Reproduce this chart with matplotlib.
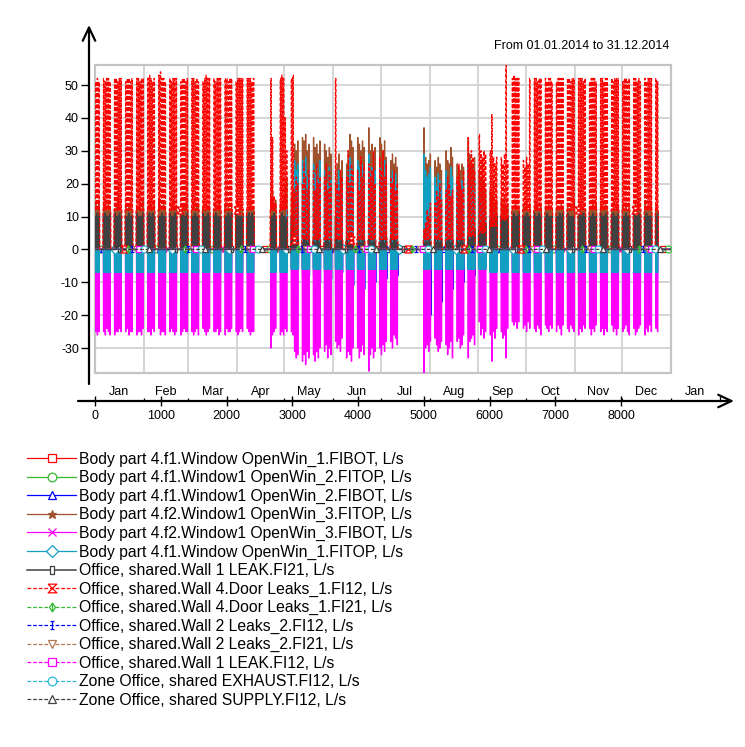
import numpy as np
import matplotlib
matplotlib.use("Agg")
import matplotlib.pyplot as plt
from matplotlib.path import Path
from matplotlib.patches import Rectangle, FancyArrowPatch
import matplotlib.transforms as mtransforms

plt.rcParams['font.family'] = ['Liberation Sans', 'DejaVu Sans']
plt.rcParams['axes.unicode_minus'] = False

# ---------------------------------------------------------------------------
# Calendar: hourly values for 2014. Week rows start on Monday 30.12.2013 and
# hold the daily values for Monday..Friday (weekends closed, 0 = closed day).
# ---------------------------------------------------------------------------
FIRST_MONDAY = -2
N_DAYS = 365

month_names = ["Jan", "Feb", "Mar", "Apr", "May", "Jun", "Jul", "Aug",
               "Sep", "Oct", "Nov", "Dec", "Jan"]
month_days = [31, 28, 31, 30, 31, 30, 31, 31, 30, 31, 30, 31, 31]
x_ticks = [0, 1000, 2000, 3000, 4000, 5000, 6000, 7000, 8000]
y_ticks = [-30, -20, -10, 0, 10, 20, 30, 40, 50]

# Office, shared.Wall 4.Door Leaks_1.FI12 - daytime peak, L/s
door_fi12_peak = [
    [0, 0, 51, 52, 51], [52, 51, 52, 52, 51], [52, 52, 51, 52, 52], [51, 52, 52, 51, 52],
    [52, 52, 51, 52, 52], [52, 53, 52, 51, 52], [53, 54, 52, 52, 51], [52, 51, 52, 52, 52],
    [51, 52, 52, 51, 52], [52, 52, 51, 52, 51], [51, 52, 53, 52, 52], [52, 51, 52, 52, 52],
    [52, 52, 51, 52, 52], [51, 52, 52, 52, 52], [52, 52, 52, 51, 52], [0, 0, 0, 0, 0],
    [0, 52, 34, 16, 14], [52, 53, 52, 40, 30], [52, 53, 18, 22, 20], [20, 26, 22, 18, 24],
    [24, 18, 26, 20, 22], [22, 26, 18, 24, 20], [52, 20, 18, 24, 22], [22, 30, 20, 26, 24],
    [24, 18, 28, 22, 26], [26, 22, 24, 30, 20], [28, 24, 30, 22, 26], [22, 20, 24, 18, 20],
    [0, 0, 0, 0, 0], [0, 0, 0, 0, 0], [6, 8, 12, 10, 14], [14, 18, 16, 20, 15],
    [18, 22, 20, 16, 18], [22, 26, 20, 18, 24], [34, 26, 30, 28, 24], [35, 30, 28, 30, 29],
    [30, 41, 28, 26, 28], [28, 26, 29, 56, 27], [52, 53, 52, 52, 52], [27, 25, 28, 26, 52],
    [52, 52, 51, 52, 52], [52, 51, 52, 52, 51], [51, 52, 52, 52, 52], [52, 52, 51, 52, 52],
    [52, 52, 52, 51, 52], [51, 52, 52, 52, 51], [52, 52, 51, 52, 52], [52, 51, 52, 52, 52],
    [51, 52, 52, 51, 52], [52, 52, 51, 52, 51], [52, 51, 52, 52, 52], [52, 51, 0, 0, 0],
    [0, 0, 0, 0, 0],
]
# Door Leaks_1.FI12 - level outside office hours on working days (per week)
door_fi12_night = [
    12, 12, 12, 12, 12, 12, 12, 12, 12, 12, 12, 12, 12, 12, 12, 12, 12, 12,
    3, 3, 3, 3, 3, 3, 3, 3, 3, 3, 3, 3, 3, 3, 3, 3, 4, 5, 7, 9,
    12, 12, 12, 12, 12, 12, 12, 12, 12, 12, 12, 12, 12, 12, 12,
]

# Body part 4.f2.Window1 OpenWin_3.FITOP - daytime peak, L/s
win3_top_peak = [
    [0, 0, 14, 12, 15], [13, 15, 12, 14, 13], [12, 14, 16, 13, 12], [14, 12, 13, 15, 12],
    [13, 12, 14, 12, 15], [12, 14, 13, 12, 14], [15, 13, 12, 14, 12], [12, 13, 15, 12, 13],
    [14, 12, 13, 14, 12], [12, 15, 12, 13, 14], [13, 12, 14, 12, 13], [12, 14, 12, 15, 12],
    [14, 12, 13, 12, 14], [13, 14, 12, 13, 12], [12, 13, 15, 12, 13], [0, 0, 0, 0, 0],
    [0, 16, 18, 14, 15], [14, 13, 16, 20, 22], [16, 18, 32, 30, 33], [34, 33, 35, 30, 32],
    [34, 31, 32, 29, 33], [32, 30, 28, 31, 29], [20, 26, 29, 24, 27], [26, 30, 35, 33, 31],
    [34, 32, 30, 33, 31], [37, 30, 32, 29, 31], [34, 32, 30, 33, 28], [27, 29, 26, 28, 25],
    [0, 0, 0, 0, 0], [0, 0, 0, 0, 0], [37, 28, 26, 27, 29], [27, 25, 28, 26, 24],
    [30, 27, 26, 31, 28], [26, 25, 24, 26, 25], [34, 29, 27, 26, 28], [24, 22, 26, 20, 18],
    [18, 16, 20, 14, 15], [15, 14, 16, 13, 14], [13, 12, 14, 12, 13], [14, 13, 15, 12, 14],
    [12, 14, 13, 12, 13], [13, 12, 14, 13, 12], [12, 13, 12, 14, 13], [14, 12, 13, 12, 15],
    [13, 14, 12, 13, 12], [12, 13, 15, 12, 14], [14, 12, 13, 14, 12], [12, 15, 12, 13, 13],
    [13, 12, 14, 12, 13], [12, 14, 13, 15, 12], [14, 12, 13, 12, 14], [13, 12, 0, 0, 0],
    [0, 0, 0, 0, 0],
]

# Body part 4.f1.Window OpenWin_1.FITOP - positive daytime peak, L/s
win1_top_peak = [
    [0, 0, 0, 0, 0], [0, 0, 0, 0, 0], [0, 0, 0, 0, 0], [0, 0, 0, 0, 0],
    [0, 0, 0, 0, 0], [0, 0, 0, 0, 0], [0, 0, 0, 0, 0], [0, 0, 0, 0, 0],
    [0, 0, 0, 0, 0], [0, 0, 0, 0, 0], [0, 0, 0, 0, 0], [0, 0, 0, 0, 0],
    [0, 0, 0, 0, 0], [0, 0, 0, 0, 0], [0, 0, 0, 0, 0], [0, 0, 0, 0, 0],
    [0, 4, 8, 6, 5], [5, 4, 6, 10, 12], [6, 8, 27, 24, 26], [27, 25, 28, 22, 24],
    [26, 23, 25, 21, 27], [24, 22, 20, 25, 21], [10, 20, 24, 18, 22], [20, 24, 28, 26, 23],
    [27, 25, 22, 26, 24], [29, 23, 25, 21, 24], [26, 24, 22, 27, 21], [22, 24, 20, 23, 19],
    [0, 0, 0, 0, 0], [0, 0, 0, 0, 0], [29, 24, 22, 23, 25], [22, 19, 23, 21, 18],
    [24, 21, 20, 25, 22], [20, 18, 17, 21, 19], [26, 22, 20, 18, 21], [16, 14, 18, 12, 10],
    [10, 8, 12, 6, 7], [6, 5, 7, 4, 5], [0, 0, 0, 0, 0], [0, 0, 0, 0, 0],
    [0, 0, 0, 0, 0], [0, 0, 0, 0, 0], [0, 0, 0, 0, 0], [0, 0, 0, 0, 0],
    [0, 0, 0, 0, 0], [0, 0, 0, 0, 0], [0, 0, 0, 0, 0], [0, 0, 0, 0, 0],
    [0, 0, 0, 0, 0], [0, 0, 0, 0, 0], [0, 0, 0, 0, 0], [0, 0, 0, 0, 0],
    [0, 0, 0, 0, 0],
]
# OpenWin_1.FITOP - negative level during office hours (per week)
win1_top_low = [
    -7, -7, -7, -7, -7, -7, -7, -7, -7, -7, -7, -7, -7, -7, -7, -7, -7, -7,
    -6, -6, -6, -6, -6, -6, -6, -6, -6, -6, -6, -6, -6, -6, -6, -6, -6, -6, -7, -7,
    -7, -7, -7, -7, -7, -7, -7, -7, -7, -7, -7, -7, -7, -7, -7,
]

# Body part 4.f2.Window1 OpenWin_3.FIBOT - daytime minimum, L/s
win3_bot_min = [
    [0, 0, -25, -26, -25], [-25, -26, -24, -25, -26], [-26, -25, -25, -24, -25], [-25, -24, -26, -25, -25],
    [-26, -25, -25, -26, -24], [-25, -25, -26, -24, -25], [-24, -26, -25, -25, -26], [-25, -24, -25, -26, -25],
    [-26, -25, -24, -25, -25], [-25, -26, -25, -24, -26], [-24, -25, -26, -25, -24], [-25, -25, -24, -26, -25],
    [-26, -24, -25, -25, -24], [-25, -26, -25, -24, -25], [-24, -25, -26, -25, -25], [0, 0, 0, 0, 0],
    [0, -30, -26, -25, -24], [-26, -25, -26, -24, -25], [-25, -26, -31, -33, -32], [-34, -32, -35, -31, -33],
    [-32, -34, -31, -33, -30], [-31, -29, -33, -30, -32], [-28, -30, -29, -31, -27], [-33, -31, -32, -34, -30],
    [-30, -33, -31, -29, -32], [-37, -32, -30, -33, -31], [-30, -32, -29, -31, -28], [-28, -30, -26, -27, -29],
    [0, 0, 0, 0, 0], [0, 0, 0, 0, 0], [-38, -30, -29, -31, -28], [-27, -29, -31, -30, -28],
    [-29, -32, -30, -28, -33], [-28, -27, -30, -29, -26], [-33, -28, -27, -26, -29], [-22, -26, -24, -27, -25],
    [-26, -34, -25, -27, -24], [-25, -27, -26, -33, -24], [-22, -23, -22, -24, -22], [-24, -23, -25, -22, -24],
    [-24, -25, -23, -24, -26], [-23, -24, -25, -23, -24], [-25, -23, -24, -26, -23], [-24, -25, -23, -24, -25],
    [-26, -24, -25, -23, -24], [-24, -26, -24, -25, -23], [-25, -24, -26, -24, -25], [-23, -25, -24, -26, -24],
    [-25, -24, -23, -25, -26], [-24, -26, -25, -24, -23], [-26, -24, -25, -23, -25], [-24, -25, 0, 0, 0],
    [0, 0, 0, 0, 0],
]

# Office, shared.Wall 1 LEAK.FI21 - daytime peak, L/s
wall1_fi21_peak = [
    [0, 0, 10, 11, 10], [10, 11, 10, 10, 11], [11, 10, 10, 11, 10], [10, 10, 11, 10, 10],
    [11, 10, 10, 10, 11], [10, 11, 10, 11, 10], [10, 10, 11, 10, 10], [11, 10, 10, 11, 10],
    [10, 11, 10, 10, 11], [10, 10, 11, 10, 10], [11, 10, 10, 11, 10], [10, 11, 10, 10, 10],
    [10, 10, 11, 10, 11], [11, 10, 10, 10, 10], [10, 11, 10, 11, 10], [0, 0, 0, 0, 0],
    [0, 10, 10, 11, 10], [10, 11, 10, 10, 9], [10, 10, 3, 2, 3], [2, 3, 4, 2, 3],
    [3, 2, 3, 4, 2], [2, 4, 3, 2, 3], [10, 3, 2, 4, 3], [3, 2, 4, 3, 2],
    [2, 3, 2, 4, 3], [3, 4, 2, 3, 2], [2, 3, 3, 2, 4], [4, 2, 3, 3, 2],
    [0, 0, 0, 0, 0], [0, 0, 0, 0, 0], [2, 3, 2, 3, 2], [3, 2, 3, 2, 3],
    [2, 3, 3, 2, 3], [3, 2, 3, 3, 2], [4, 3, 5, 4, 6], [6, 8, 7, 9, 8],
    [9, 10, 9, 10, 10], [10, 10, 9, 10, 10], [10, 11, 10, 10, 11], [10, 10, 11, 10, 10],
    [11, 10, 10, 11, 10], [10, 11, 10, 10, 10], [10, 10, 11, 10, 11], [11, 10, 10, 10, 10],
    [10, 11, 10, 11, 10], [10, 10, 11, 10, 10], [11, 10, 10, 11, 10], [10, 11, 10, 10, 11],
    [10, 10, 11, 10, 10], [11, 10, 10, 11, 10], [10, 11, 10, 10, 10], [10, 11, 0, 0, 0],
    [0, 0, 0, 0, 0],
]

# Body part 4.f1.Window1 OpenWin_2.FIBOT - evening minimum per week, L/s
win2_bot_min = [
    0, 0, 0, 0, 0, 0, 0, 0, 0, 0, 0, 0, 0, 0, 0, 0, 0, 0,
    -6, -8, -10, -9, -7, -11, -12, -10, -9, -8, 0, 0, -20, -16, -12, -10, -8, -5, -3, 0,
    0, 0, 0, 0, 0, 0, 0, 0, 0, 0, 0, 0, 0, 0, 0,
]
# Body part 4.f1.Window OpenWin_1.FIBOT - midday level per week, L/s
win1_bot_level = [
    0, 0, 0, 0, 0, 0, 0, 0, 0, 0, 0, 0, 0, 0, 0, 0, 0, 0,
    -6, -8, -8, -7, -8, -9, -8, -8, -7, -6, 0, 0, -8, -8, -7, -7, -6, -4, -2, 0,
    0, 0, 0, 0, 0, 0, 0, 0, 0, 0, 0, 0, 0, 0, 0,
]
# Flows that stay at zero over the year, L/s
ZERO_FLOW = 0.0

# ---------------------------------------------------------------------------
# Expand the daily values to the hourly simulation grid
# ---------------------------------------------------------------------------
hours = np.arange(N_DAYS * 24)
day_of_hour = hours // 24
hour_of_day = hours % 24
week_of_day = (np.arange(N_DAYS) - FIRST_MONDAY) // 7


def per_day(week_rows):
    daily = np.zeros(N_DAYS)
    for w, row in enumerate(week_rows):
        for i, v in enumerate(row):
            d = FIRST_MONDAY + 7 * w + i
            if 0 <= d < N_DAYS:
                daily[d] = v
    return daily


door_daily = per_day(door_fi12_peak)
open_day = door_daily != 0


def per_week(levels):
    return np.where(open_day, np.asarray(levels, float)[week_of_day], 0.0)


def office_hours(first, last):
    return (hour_of_day >= first) & (hour_of_day <= last)


def spread(daily, first, last, base=None):
    rest = np.zeros(hours.size) if base is None else base[day_of_hour]
    return np.where(office_hours(first, last), daily[day_of_hour], rest)


door_fi12 = spread(door_daily, 8, 16, base=per_week(door_fi12_night))
win3_top = spread(per_day(win3_top_peak), 9, 15)
win3_bot = spread(per_day(win3_bot_min), 8, 16)
wall1_fi21 = spread(per_day(wall1_fi21_peak), 8, 16)
win2_bot = spread(per_week(win2_bot_min), 19, 23)
win1_bot = spread(per_week(win1_bot_level), 10, 14)
win1_top = spread(per_week(win1_top_low), 8, 16)
top_peak_hourly = per_day(win1_top_peak)[day_of_hour]
win1_top = np.where(office_hours(10, 14) & (top_peak_hourly > 0), top_peak_hourly, win1_top)
flat = np.full(hours.size, ZERO_FLOW)

# ---------------------------------------------------------------------------
# Marker shapes
# ---------------------------------------------------------------------------
hourglass = [(-1, 1), (1, 1), (-1, -1), (1, -1), (-1, 1)]
slim_box = [(-0.35, -1), (0.35, -1), (0.35, 1), (-0.35, 1), (-0.35, -1)]
ibeam = Path([(-0.5, 1), (0.5, 1), (0, 1), (0, -1), (-0.5, -1), (0.5, -1)],
             [Path.MOVETO, Path.LINETO, Path.MOVETO, Path.LINETO, Path.MOVETO, Path.LINETO])
diamond_bar = Path([(0, 1), (0.7, 0), (0, -1), (-0.7, 0), (0, 1), (0, -1)],
                   [Path.MOVETO, Path.LINETO, Path.LINETO, Path.LINETO, Path.LINETO, Path.LINETO])

DASH = (0, (3, 1.5))
series = [
    ("Body part 4.f1.Window OpenWin_1.FIBOT, L/s", win1_bot, "#ff0000", "-", "s"),
    ("Body part 4.f1.Window1 OpenWin_2.FITOP, L/s", flat, "#33bb33", "-", "o"),
    ("Body part 4.f1.Window1 OpenWin_2.FIBOT, L/s", win2_bot, "#0000ff", "-", "^"),
    ("Body part 4.f2.Window1 OpenWin_3.FITOP, L/s", win3_top, "#a0522d", "-", "*"),
    ("Body part 4.f2.Window1 OpenWin_3.FIBOT, L/s", win3_bot, "#ff00ff", "-", "x"),
    ("Body part 4.f1.Window OpenWin_1.FITOP, L/s", win1_top, "#139fc2", "-", "D"),
    ("Office, shared.Wall 1 LEAK.FI21, L/s", wall1_fi21, "#404040", "-", slim_box),
    ("Office, shared.Wall 4.Door Leaks_1.FI12, L/s", door_fi12, "#ff0000", DASH, hourglass),
    ("Office, shared.Wall 4.Door Leaks_1.FI21, L/s", flat, "#33bb33", DASH, diamond_bar),
    ("Office, shared.Wall 2 Leaks_2.FI12, L/s", flat, "#0000ff", DASH, ibeam),
    ("Office, shared.Wall 2 Leaks_2.FI21, L/s", flat, "#b07850", DASH, "v"),
    ("Office, shared.Wall 1 LEAK.FI12, L/s", flat, "#ff00ff", DASH, "s"),
    ("Zone Office, shared EXHAUST.FI12, L/s", flat, "#2ab8d4", DASH, "o"),
    ("Zone Office, shared SUPPLY.FI12, L/s", flat, "#404040", DASH, "^"),
]
# first marked hour of each series; markers repeat every 36 days at night
MARK_STEP = 864
mark_start = [0, 70, 124, 188, 242, 310, 362, 434, 500, 556, 620, 674, 744, 814]

# ---------------------------------------------------------------------------
# Figure
# ---------------------------------------------------------------------------
W, H = 745, 747
fig = plt.figure(figsize=(W / 100, H / 100), dpi=100)
fig.patch.set_facecolor("white")


def fx(px):
    return px / W


def fy(py):
    return 1 - py / H


ax = fig.add_axes([fx(95), fy(373), fx(671) - fx(95), fy(65) - fy(373)])
ax.set_xlim(0, 8760)
ax.set_ylim(-37.6, 56.1)

handles = []
for i, (label, values, color, ls, marker) in enumerate(series):
    lw = 1.1 if i == 6 else 0.9
    filled = marker in ("*", "x")
    line, = ax.plot(hours, values, color=color, lw=lw, ls=ls, label=label,
                    marker=marker, markersize=5.0,
                    markerfacecolor=color if filled else "white",
                    markeredgecolor=color, markeredgewidth=0.9,
                    markevery=(mark_start[i], MARK_STEP), zorder=2 + i * 0.01)
    handles.append(line)

# grid and frame
month_start_hours = np.cumsum([0] + month_days) * 24
ax.set_yticks(y_ticks)
ax.set_xticks(x_ticks)
ax.set_xticks(month_start_hours[:13], minor=True)
ax.grid(True, axis="y", which="major", color="#d2d2d2", lw=1.3)
ax.grid(True, axis="x", which="minor", color="#d2d2d2", lw=1.3)
ax.grid(False, axis="x", which="major")
ax.set_axisbelow(True)
ax.add_patch(Rectangle((0, 0), 1, 1, transform=ax.transAxes, fill=False,
                       ec="#c4c4c4", lw=1.6, zorder=1.5, clip_on=False))

for side in ("top", "right"):
    ax.spines[side].set_visible(False)
ax.spines["left"].set_position(("outward", 4.3))
ax.spines["bottom"].set_position(("outward", 20.2))
ax.spines["left"].set_visible(False)
ax.spines["bottom"].set_visible(False)

ax.tick_params(axis="y", direction="out", length=5.8, width=1.0, color="black",
               labelsize=9, pad=1.5)
ax.tick_params(axis="x", which="major", direction="inout", length=7.5, width=1.0,
               color="black", labelsize=9, pad=3)
ax.tick_params(axis="x", which="minor", direction="in", length=2.5, width=0.9,
               color="black")

# month names between the month boundaries, plus the following January
label_tf = mtransforms.blended_transform_factory(ax.transData, ax.transAxes)
axis_h_px = 373 - 65
for k, name in enumerate(month_names):
    mid = (month_start_hours[k] + month_start_hours[k + 1]) / 2
    ax.text(mid, -(392 - 373) / axis_h_px, name, transform=label_tf, ha="center",
            va="center", fontsize=9, clip_on=False)
ax.plot([month_start_hours[13], month_start_hours[13]],
        [-(400.5 - 373) / axis_h_px, -(397 - 373) / axis_h_px],
        transform=label_tf, color="black", lw=0.9, clip_on=False)

# axis lines with arrow heads
arrow_style = "->,head_length=0.95,head_width=0.45"
fig.add_artist(FancyArrowPatch((fx(89), fy(384)), (fx(89), fy(25)),
                               transform=fig.transFigure, arrowstyle=arrow_style,
                               mutation_scale=10, lw=1.6, color="black",
                               shrinkA=0, shrinkB=0))
fig.add_artist(FancyArrowPatch((fx(78), fy(401)), (fx(734), fy(401)),
                               transform=fig.transFigure, arrowstyle=arrow_style,
                               mutation_scale=10, lw=1.6, color="black",
                               shrinkA=0, shrinkB=0))

fig.text(fx(669), fy(46), "From 01.01.2014 to 31.12.2014", ha="right",
         va="center", fontsize=9)

fig.legend(handles, [s[0] for s in series], loc="upper left",
           bbox_to_anchor=(fx(27), fy(451.5)), frameon=False, fontsize=11.3,
           handlelength=3.15, handletextpad=0.19, labelspacing=0.22,
           borderpad=0, borderaxespad=0, numpoints=1, markerscale=1.25)

fig.savefig("out.png", dpi=100, facecolor="white")
